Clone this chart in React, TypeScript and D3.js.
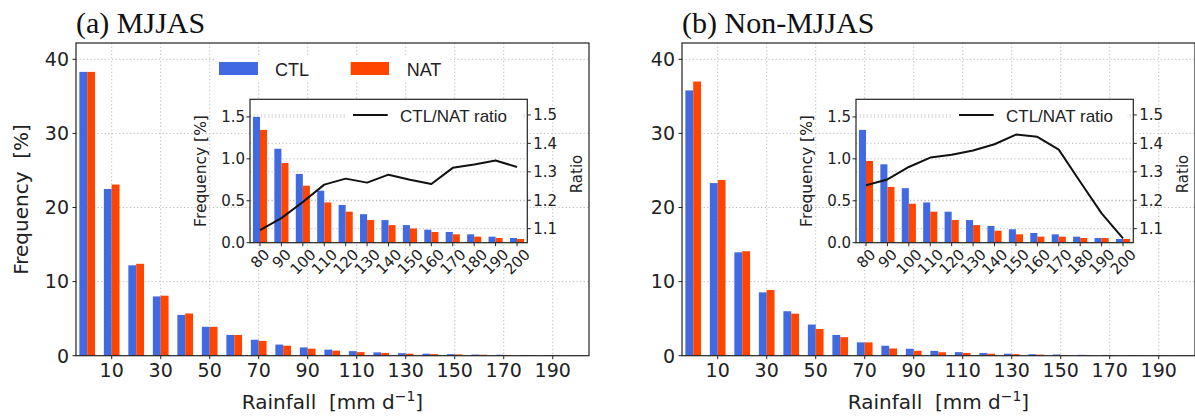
import React from 'react';
import * as d3 from 'd3';

// ---------- data ----------
const MAIN_BINS = [0, 10, 20, 30, 40, 50, 60, 70, 80, 90, 100, 110, 120, 130, 140, 150, 160, 170, 180, 190, 200];
const MAIN_TICKS = [10, 30, 50, 70, 90, 110, 130, 150, 170, 190];
const MAIN_YTICKS = [0, 10, 20, 30, 40];
const INSET_BINS = [80, 90, 100, 110, 120, 130, 140, 150, 160, 170, 180, 190, 200];
const INSET_YTICKS = [0.0, 0.5, 1.0, 1.5];
const RATIO_TICKS = [1.1, 1.2, 1.3, 1.4, 1.5];

const A_CTL = [38.3, 22.5, 12.2, 8.0, 5.5, 3.9, 2.8, 2.15, 1.5, 1.12, 0.82, 0.62, 0.45, 0.34, 0.27, 0.21, 0.155, 0.128, 0.10, 0.072, 0.056];
const A_NAT = [38.3, 23.1, 12.4, 8.1, 5.7, 3.9, 2.8, 2.0, 1.345, 0.95, 0.68, 0.48, 0.37, 0.27, 0.21, 0.17, 0.128, 0.10, 0.072, 0.056, 0.044];
const A_RATIO = [1.095, 1.137, 1.194, 1.255, 1.276, 1.262, 1.29, 1.272, 1.257, 1.314, 1.326, 1.34, 1.317];

const B_CTL = [35.8, 23.3, 13.95, 8.55, 6.0, 4.2, 2.8, 1.8, 1.345, 0.935, 0.65, 0.48, 0.37, 0.27, 0.2, 0.16, 0.116, 0.10, 0.072, 0.056, 0.044];
const B_NAT = [37.0, 23.7, 14.1, 8.87, 5.67, 3.6, 2.5, 1.8, 0.975, 0.665, 0.465, 0.37, 0.27, 0.21, 0.143, 0.10, 0.072, 0.072, 0.056, 0.056, 0.044];
const B_RATIO = [1.253, 1.273, 1.317, 1.35, 1.36, 1.375, 1.397, 1.431, 1.423, 1.378, 1.265, 1.154, 1.066];

const SERIES = ['CTL', 'NAT'];
const RATIO_LABEL = 'CTL/NAT ratio';

// ---------- style ----------
const BLUE = '#4169E1';
const ORANGE = '#FF4500';
const GRID = '#b3b3b3';
const SANS = "'DejaVu Sans', sans-serif";
const LEG = "'Liberation Sans', Arial, sans-serif";
const SERIF = "'Liberation Serif', 'Times New Roman', serif";

type PanelProps = {
  ox: number;
  title: string;
  ctl: number[];
  nat: number[];
  ratio: number[];
  legend: boolean;
  ylabel: boolean;
};

function Panel({ ox, title, ctl, nat, ratio, legend, ylabel }: PanelProps) {
  // main axes
  const X0 = 76 + ox, X1 = 589 + ox, Y0 = 355.7, Y1 = 43;
  const x = d3.scaleLinear().domain([-0.457, 20.48]).range([X0, X1]);
  const y = d3.scaleLinear().domain([0, 42.2]).range([Y0, Y1]);
  const BW = 0.32;

  // inset axes
  const IX0 = 250 + ox, IX1 = 527.3 + ox, IY0 = 242.7, IY1 = 99.3;
  const xi = d3.scaleLinear().domain([-0.467, 12.48]).range([IX0, IX1]);
  const yl = d3.scaleLinear().domain([0, 1.71]).range([IY0, IY1]);
  const yr = d3.scaleLinear().domain([1.0507, 1.555]).range([IY0, IY1]);
  const IBW = 0.33;

  const insetCtl = INSET_BINS.map((b) => ctl[MAIN_BINS.indexOf(b)]);
  const insetNat = INSET_BINS.map((b) => nat[MAIN_BINS.indexOf(b)]);

  const line = d3.line<number>().x((_, i) => xi(i)).y((d) => yr(d));

  return (
    <g>
      {/* title */}
      <text x={X0} y={33} fontFamily={SERIF} fontSize={30} fill="#111">{title}</text>

      {/* main grid */}
      {MAIN_TICKS.map((t) => {
        const px = x(MAIN_BINS.indexOf(t));
        return <line key={'gx' + t} x1={px} x2={px} y1={Y1} y2={Y0} stroke={GRID} strokeWidth={0.9} strokeDasharray="1.2,2.4" />;
      })}
      {MAIN_YTICKS.filter((t) => t > 0).map((t) => (
        <line key={'gy' + t} x1={X0} x2={X1} y1={y(t)} y2={y(t)} stroke={GRID} strokeWidth={0.9} strokeDasharray="1.2,2.4" />
      ))}

      {/* main bars */}
      {MAIN_BINS.map((b, i) => (
        <g key={'b' + b}>
          <rect x={x(i - BW)} y={y(ctl[i])} width={x(i) - x(i - BW)} height={Y0 - y(ctl[i])} fill={BLUE} />
          <rect x={x(i)} y={y(nat[i])} width={x(i + BW) - x(i)} height={Y0 - y(nat[i])} fill={ORANGE} />
        </g>
      ))}

      {/* main frame */}
      <rect x={X0} y={Y1} width={X1 - X0} height={Y0 - Y1} fill="none" stroke="#222" strokeWidth={1.2} />

      {/* main ticks */}
      {MAIN_YTICKS.map((t) => (
        <g key={'yt' + t}>
          <line x1={X0 - 3.5} x2={X0} y1={y(t)} y2={y(t)} stroke="#222" strokeWidth={1} />
          <text x={X0 - 7} y={y(t)} dy="0.36em" textAnchor="end" fontFamily={SANS} fontSize={19} fill="#222">{t}</text>
        </g>
      ))}
      {MAIN_TICKS.map((t) => {
        const px = x(MAIN_BINS.indexOf(t));
        return (
          <g key={'xt' + t}>
            <line x1={px} x2={px} y1={Y0} y2={Y0 + 3.5} stroke="#222" strokeWidth={1} />
            <text x={px} y={376.5} textAnchor="middle" fontFamily={SANS} fontSize={19} fill="#222">{t}</text>
          </g>
        );
      })}

      {/* axis labels */}
      <text x={(X0 + X1) / 2} y={409} textAnchor="middle" fontFamily={SANS} fontSize={20} fill="#222" style={{ whiteSpace: 'pre' }}>
        <tspan>{'Rainfall  [mm d'}</tspan>
        <tspan dy={-8} fontSize={14}>{'\u22121'}</tspan>
        <tspan dy={8}>{']'}</tspan>
      </text>
      {ylabel && (
        <text transform={`translate(${28},${199.5}) rotate(-90)`} textAnchor="middle" fontFamily={SANS} fontSize={20} fill="#222" style={{ whiteSpace: 'pre' }}>
          {'Frequency  [%]'}
        </text>
      )}

      {/* main legend */}
      {legend && (
        <g>
          <rect x={214 + ox} y={55} width={235} height={26} fill="#fff" />
          <rect x={219 + ox} y={62} width={39} height={13} fill={BLUE} />
          <text x={275 + ox} y={75.5} fontFamily={LEG} fontSize={18} fill="#222">{SERIES[0]}</text>
          <rect x={350.7 + ox} y={62} width={38.3} height={13} fill={ORANGE} />
          <text x={406.7 + ox} y={75.5} fontFamily={LEG} fontSize={18} fill="#222">{SERIES[1]}</text>
        </g>
      )}

      {/* ---------- inset ---------- */}
      <rect x={IX0} y={IY1} width={IX1 - IX0} height={IY0 - IY1} fill="#fff" />
      {INSET_YTICKS.filter((t) => t > 0).map((t) => (
        <line key={'igl' + t} x1={IX0} x2={IX1} y1={yl(t)} y2={yl(t)} stroke={GRID} strokeWidth={0.9} strokeDasharray="1.2,2.4" />
      ))}
      {RATIO_TICKS.map((t) => (
        <line key={'igr' + t} x1={IX0} x2={IX1} y1={yr(t)} y2={yr(t)} stroke={GRID} strokeWidth={0.9} strokeDasharray="1.2,2.4" />
      ))}
      {INSET_BINS.map((b, i) => (
        <g key={'ib' + b}>
          <rect x={xi(i - IBW)} y={yl(insetCtl[i])} width={xi(i) - xi(i - IBW)} height={IY0 - yl(insetCtl[i])} fill={BLUE} />
          <rect x={xi(i)} y={yl(insetNat[i])} width={xi(i + IBW) - xi(i)} height={IY0 - yl(insetNat[i])} fill={ORANGE} />
        </g>
      ))}
      <path d={line(ratio) || ''} fill="none" stroke="#111" strokeWidth={2} strokeLinejoin="round" />

      {/* inset legend */}
      <rect x={347 + ox} y={105} width={174} height={21} fill="#fff" />
      <line x1={353 + ox} x2={387.7 + ox} y1={115} y2={115} stroke="#111" strokeWidth={2} />
      <text x={400 + ox} y={121.5} fontFamily={LEG} fontSize={17} fill="#222">{RATIO_LABEL}</text>

      <rect x={IX0} y={IY1} width={IX1 - IX0} height={IY0 - IY1} fill="none" stroke="#222" strokeWidth={1.2} />

      {/* inset ticks */}
      {INSET_YTICKS.map((t) => (
        <g key={'iyt' + t}>
          <line x1={IX0 - 3.5} x2={IX0} y1={yl(t)} y2={yl(t)} stroke="#222" strokeWidth={1} />
          <text x={IX0 - 5} y={yl(t)} dy="0.36em" textAnchor="end" fontFamily={SANS} fontSize={15} fill="#222">{t.toFixed(1)}</text>
        </g>
      ))}
      {RATIO_TICKS.map((t) => (
        <g key={'irt' + t}>
          <line x1={IX1} x2={IX1 + 3.5} y1={yr(t)} y2={yr(t)} stroke="#222" strokeWidth={1} />
          <text x={IX1 + 6} y={yr(t)} dy="0.36em" fontFamily={SANS} fontSize={15} fill="#222">{t.toFixed(1)}</text>
        </g>
      ))}
      {INSET_BINS.map((b, i) => {
        const s = String(b);
        const w = 0.636 * 15 * s.length;
        const cx = xi(i);
        const cy = IY0 + 8.85 + w * 0.354;
        return (
          <g key={'ixt' + b}>
            <line x1={cx} x2={cx} y1={IY0} y2={IY0 + 3.5} stroke="#222" strokeWidth={1} />
            <text transform={`translate(${cx},${cy}) rotate(-45)`} dy="0.36em" textAnchor="middle" fontFamily={SANS} fontSize={15} fill="#222">{s}</text>
          </g>
        );
      })}
      <text transform={`translate(${206 + ox},${171}) rotate(-90)`} textAnchor="middle" fontFamily={SANS} fontSize={15.5} fill="#222">Frequency [%]</text>
      <text transform={`translate(${581.5 + ox},${174}) rotate(-90)`} textAnchor="middle" fontFamily={SANS} fontSize={15} fill="#222">Ratio</text>
    </g>
  );
}

export default function App() {
  return (
    <svg width={1195} height={416} style={{ position: 'absolute', left: 0, top: 0, background: '#fff' }}>
      <rect x={0} y={0} width={1195} height={416} fill="#fff" />
      <Panel ox={0} title="(a) MJJAS" ctl={A_CTL} nat={A_NAT} ratio={A_RATIO} legend={true} ylabel={true} />
      <Panel ox={606} title="(b) Non-MJJAS" ctl={B_CTL} nat={B_NAT} ratio={B_RATIO} legend={false} ylabel={false} />
    </svg>
  );
}
